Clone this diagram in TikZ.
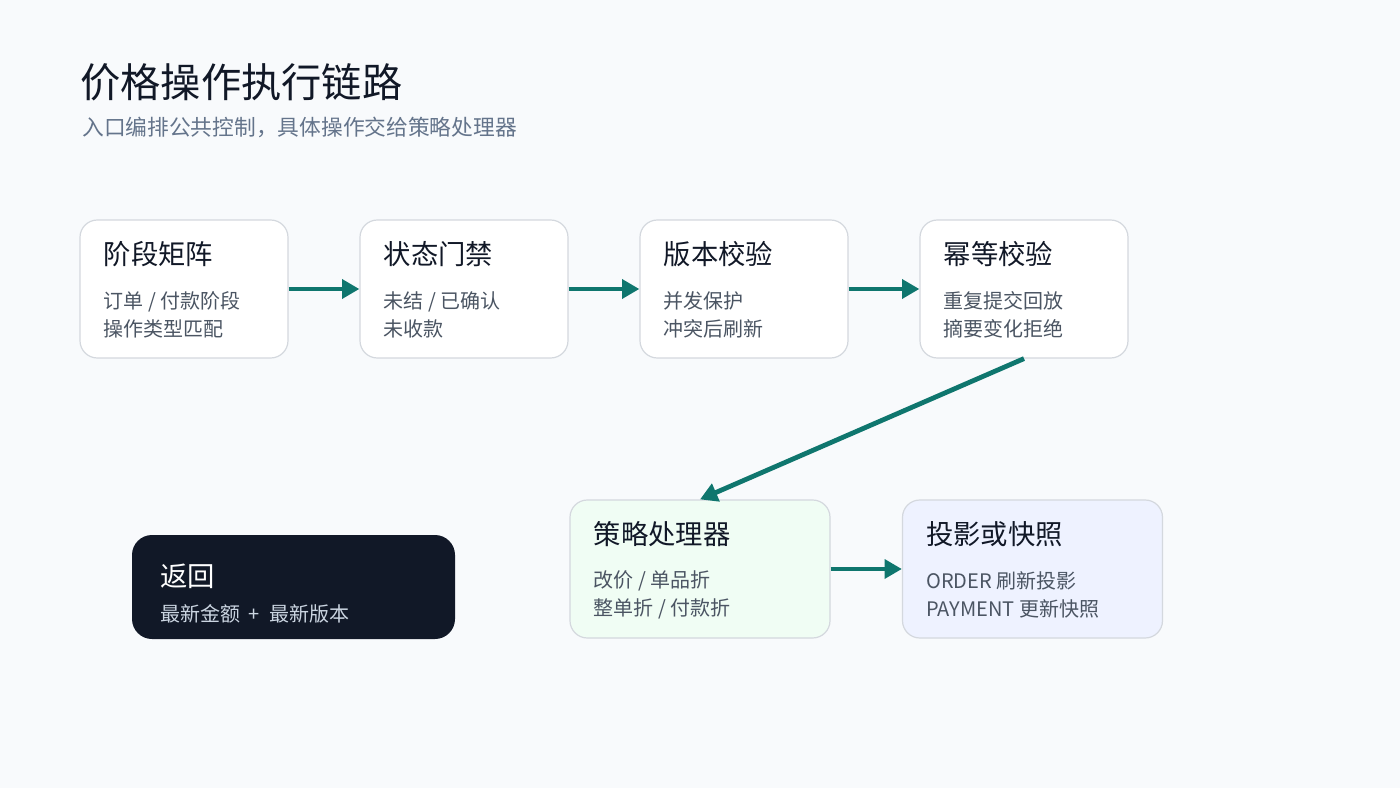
\documentclass[tikz,border=0pt]{standalone}
\usepackage{fontspec}
\setmainfont{Noto Sans CJK SC}
\usetikzlibrary{arrows.meta}
\definecolor{pagebg}{HTML}{F8FAFC}
\definecolor{cardline}{HTML}{D4D8DE}
\definecolor{headink}{HTML}{111827}
\definecolor{subink}{HTML}{64748B}
\definecolor{bodyink}{HTML}{4B5563}
\definecolor{flowteal}{HTML}{0F766E}
\definecolor{greenfill}{HTML}{F0FDF4}
\definecolor{bluefill}{HTML}{EEF2FF}
\definecolor{darkfill}{HTML}{111827}
\definecolor{darkbody}{HTML}{CBD5E1}

\begin{document}
\begin{tikzpicture}[x=0.75pt,y=-0.75pt,
	card/.style={shape=rectangle, draw=cardline, line width=0.9pt, rounded corners=13pt, fill=white, minimum width=156pt, minimum height=103.5pt, inner sep=0pt},
	widecard/.style={card, minimum width=195pt},
	cardtitle/.style={anchor=west, inner sep=0pt, text=headink, font=\fontsize{20.5}{24}\selectfont},
	cardbody/.style={anchor=west, align=left, inner sep=0pt, text=bodyink, font=\fontsize{15}{21}\selectfont},
	flow/.style={draw=flowteal, line width=3.6pt, -{Triangle[length=13pt,width=14pt]}}]
	% Page, heading and cards:
	\useasboundingbox[fill=pagebg] (0,0) rectangle (1400,788);
	\node[anchor=west, inner sep=0pt, text=headink, font=\fontsize{30.2}{36}\selectfont] (title) at (80,82) {价格操作执行链路};
	\node[anchor=west, inner sep=0pt, text=subink, font=\fontsize{16.3}{18}\selectfont] (subtitle) at (82,127) {入口编排公共控制，具体操作交给策略处理器};
	\node[card] (stage) at (184,289) {};
	\node[card] (gate) at (464,289) {};
	\node[card] (version) at (744,289) {};
	\node[card] (idem) at (1024,289) {};
	\node[widecard, fill=greenfill] (strategy) at (700,569) {};
	\node[widecard, fill=bluefill] (snapshot) at (1032.5,569) {};
	\node[shape=rectangle, fill=darkfill, rounded corners=15pt, minimum width=242.25pt, minimum height=78pt, inner sep=0pt] (ret) at (293.5,587) {};
	\node[cardtitle] (stage-t) at ([xshift=18pt,yshift=-26.25pt]stage.north west) {阶段矩阵};
	\node[cardbody] (stage-b) at ([xshift=18pt,yshift=-71.5pt]stage.north west) {订单 / 付款阶段\\操作类型匹配};
	\node[cardtitle] (gate-t) at ([xshift=18pt,yshift=-26.25pt]gate.north west) {状态门禁};
	\node[cardbody] (gate-b) at ([xshift=18pt,yshift=-71.5pt]gate.north west) {未结 / 已确认\\未收款};
	\node[cardtitle] (version-t) at ([xshift=18pt,yshift=-26.25pt]version.north west) {版本校验};
	\node[cardbody] (version-b) at ([xshift=18pt,yshift=-71.5pt]version.north west) {并发保护\\冲突后刷新};
	\node[cardtitle] (idem-t) at ([xshift=18pt,yshift=-26.25pt]idem.north west) {幂等校验};
	\node[cardbody] (idem-b) at ([xshift=18pt,yshift=-71.5pt]idem.north west) {重复提交回放\\摘要变化拒绝};
	\node[cardtitle] (strategy-t) at ([xshift=18pt,yshift=-26.25pt]strategy.north west) {策略处理器};
	\node[cardbody] (strategy-b) at ([xshift=18pt,yshift=-71.5pt]strategy.north west) {改价 / 单品折\\整单折 / 付款折};
	\node[cardtitle] (snapshot-t) at ([xshift=18pt,yshift=-26.25pt]snapshot.north west) {投影或快照};
	\node[cardbody] (snapshot-b) at ([xshift=18pt,yshift=-71.5pt]snapshot.north west) {ORDER 刷新投影\\PAYMENT 更新快照};
	\node[cardtitle, text=white] (ret-t) at ([xshift=21pt,yshift=-31.5pt]ret.north west) {返回};
	\node[cardbody, text=darkbody] (ret-b) at ([xshift=21pt,yshift=-59.25pt]ret.north west) {最新金额\hspace{0.45em}+\hspace{0.45em}最新版本};
	\draw[flow] (stage) -- (gate);
	\draw[flow] (gate) -- (version);
	\draw[flow] (version) -- (idem);
	\draw[flow] (idem.south) -- (strategy.north);
	\draw[flow] (strategy) -- (snapshot);
\end{tikzpicture}
\end{document}
